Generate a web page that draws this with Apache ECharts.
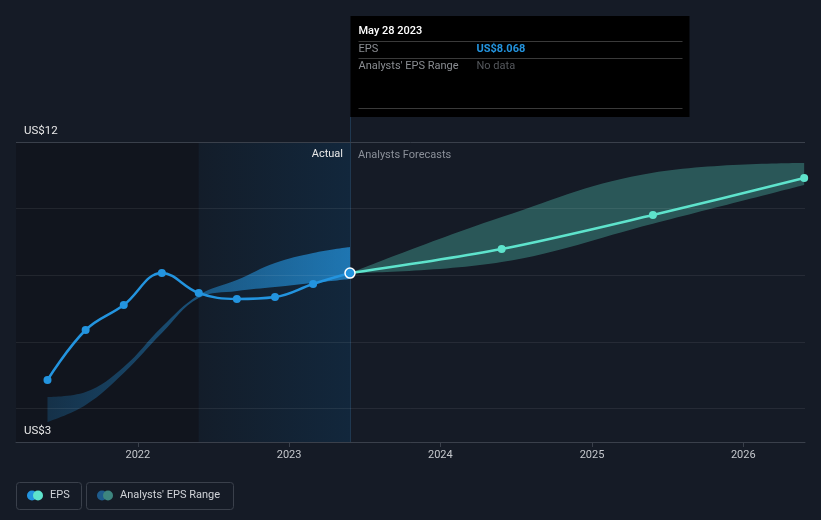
<!DOCTYPE html>
<html><head><meta charset="utf-8">
<script src="https://cdn.jsdelivr.net/npm/echarts@6/dist/echarts.min.js"></script>
<style>html,body{margin:0;padding:0;background:#151b26}#c{width:821px;height:520px}</style>
</head><body><div id="c"></div><script>
const actualDates = ['2021-05-28','2021-08-28','2021-11-28','2022-02-28','2022-05-28','2022-08-28','2022-11-28','2023-02-28','2023-05-28'];
const actualEps = [4.86,6.36,7.11,8.07,7.47,7.29,7.35,7.74,8.068];
const pastRangeLow = [3.60,4.11,5.07,6.27,7.32,7.53,7.65,7.77,7.89];
const pastRangeHigh = [4.35,4.50,5.25,6.45,7.41,7.86,8.37,8.67,8.85];
const forecastDates = ['2023-05-28','2024-05-28','2025-05-28','2026-05-28'];
const forecastEps = [8.068,8.79,9.81,10.92];
const forecastLow = [8.068,8.40,9.55,10.71];
const forecastHigh = [8.068,9.75,11.08,11.37];
const gridValues = [4,6,8,10];
const yTickLabels = [3,12];
const axisMinDate = '2021-03-13';
const axisMaxDate = '2026-05-30';
const pastSplitDate = '2022-05-28';
const tooltipDate = 'May 28 2023';
const tooltipEps = 'US$8.068';

const FONT = 'Roboto, "Noto Sans", sans-serif';
const ts = d => new Date(d + 'T00:00:00Z').getTime();
const YEAR = 365 * 24 * 3600 * 1000;
const chart = echarts.init(document.getElementById('c'), null, {renderer:'canvas'});

const pair = (dates, vals) => dates.map((d,i)=>[ts(d), vals[i]]);
const diff = (dates, lo, hi) => dates.map((d,i)=>[ts(d), +(hi[i]-lo[i]).toFixed(4)]);

const gridMarkLines = gridValues.map(v => ({yAxis: v}));
const labelMarkLines = yTickLabels.map(v => ({
  yAxis: v,
  lineStyle: {color: '#3a404b', width: 1, type: 'solid'},
  label: {show: true, position: 'insideStartTop', distance: [8, 4.5], formatter: 'US$' + v,
    color: '#e8e8e8', fontSize: 11.5, fontFamily: FONT}
}));

const option = {
  backgroundColor: '#151b26',
  animation: false,
  textStyle: {fontFamily: FONT},
  grid: {left: 16, right: 16, top: 142, bottom: 78, containLabel: false},
  xAxis: {
    type: 'time',
    min: ts(axisMinDate), max: ts(axisMaxDate),
    minInterval: YEAR, maxInterval: YEAR + 86400000, splitNumber: 5,
    axisLine: {show: true, lineStyle: {color: '#3a404b', width: 1}},
    axisTick: {show: true, length: 5, lineStyle: {color: '#3a404b'}},
    axisLabel: {show: true, color: '#c4c7cc', fontSize: 11, margin: 8, showMinLabel: false, showMaxLabel: false,
      formatter: '{yyyy}'},
    splitLine: {show: false}
  },
  yAxis: {
    type: 'value', min: 3, max: 12, interval: 9,
    axisLine: {show: false}, axisTick: {show: false},
    axisLabel: {show: false},
    splitLine: {show: false}
  },
  series: [
    {
      name: 'pastLow', type: 'line', stack: 'past', smooth: 0.4, symbol: 'none', silent: true,
      lineStyle: {opacity: 0}, data: pair(actualDates, pastRangeLow), z: 2,
      markArea: {
        silent: true,
        data: [
          [{xAxis: ts(axisMinDate), itemStyle: {color: '#11151e'}}, {xAxis: ts(pastSplitDate)}],
          [{xAxis: ts(pastSplitDate), itemStyle: {color: {type:'linear', x:0, y:0, x2:1, y2:0,
              colorStops:[{offset:0,color:'#131d2a'},{offset:1,color:'#12273c'}]}},
            label: {show: true, position: 'insideTopRight', distance: 7, formatter: 'Actual', color: '#e8e8e8', fontSize: 11, fontFamily: FONT}},
           {xAxis: ts(actualDates[actualDates.length-1])}],
          [{xAxis: ts(actualDates[actualDates.length-1]), itemStyle: {color: 'rgba(0,0,0,0)'},
            label: {show: true, position: 'insideTopLeft', distance: 8, formatter: 'Analysts Forecasts', color: '#8b9099', fontSize: 11, fontFamily: FONT}},
           {xAxis: ts(axisMaxDate)}]
        ]
      }
    },
    {
      name: 'pastBand', type: 'line', stack: 'past', smooth: 0.4, symbol: 'none', silent: true,
      lineStyle: {opacity: 0}, z: 3,
      areaStyle: {opacity: 1, color: {type:'linear', x:0, y:0, x2:1, y2:0,
        colorStops:[{offset:0,color:'rgba(35,148,223,0.22)'},{offset:1,color:'rgba(35,148,223,0.72)'}]}},
      data: diff(actualDates, pastRangeLow, pastRangeHigh)
    },
    {
      name: 'fcLow', type: 'line', stack: 'fc', smooth: 0.4, symbol: 'none', silent: true,
      lineStyle: {opacity: 0}, data: pair(forecastDates, forecastLow), z: 2
    },
    {
      name: 'fcBand', type: 'line', stack: 'fc', smooth: 0.4, symbol: 'none', silent: true,
      lineStyle: {opacity: 0}, z: 3,
      areaStyle: {opacity: 1, color: 'rgba(94,227,204,0.3)'},
      data: diff(forecastDates, forecastLow, forecastHigh)
    },
    {
      name: 'EPS forecast', type: 'line', smooth: 0.3, z: 5,
      symbol: 'circle', symbolSize: 8,
      lineStyle: {color: '#5ee3cc', width: 2.5},
      itemStyle: {color: '#5ee3cc'},
      markLine: {
        silent: true, symbol: 'none', label: {show: false},
        lineStyle: {color: 'rgba(255,255,255,0.075)', width: 1, type: 'solid'},
        data: gridMarkLines.concat(labelMarkLines)
      },
      data: forecastDates.map((d,i)=> i===0 ? {value:[ts(d), forecastEps[i]], symbol:'none'} : [ts(d), forecastEps[i]])
    },
    {
      name: 'EPS', type: 'line', smooth: 0.4, z: 6,
      symbol: 'circle', symbolSize: 8,
      lineStyle: {color: '#2394df', width: 2.5},
      itemStyle: {color: '#2394df'},
      data: actualDates.map((d,i)=> i===actualDates.length-1
        ? {value:[ts(d), actualEps[i]], symbolSize: 10, itemStyle:{color:'#2394df', borderColor:'#ffffff', borderWidth:1.5}}
        : [ts(d), actualEps[i]])
    }
  ]
};
chart.setOption(option);

const p = chart.convertToPixel({xAxisIndex:0, yAxisIndex:0}, [ts(actualDates[actualDates.length-1]), actualEps[actualEps.length-1]]);
const bottom = chart.convertToPixel({yAxisIndex:0}, 3);
const lx = Math.round(p[0]) + 0.5;
const tipL = lx, tipT = 16, tipW = 339, tipH = 101;
const legendY = 482, legendH = 27;
const F = '11px ' + FONT;
chart.setOption({
  graphic: [
    {type:'line', z: 1, shape:{x1: lx, y1: tipT + tipH, x2: lx, y2: bottom}, style:{stroke:'#1f3850', lineWidth:1}},
    {type:'group', z: 100, children: [
      {type:'rect', shape:{x: tipL, y: tipT, width: tipW, height: tipH}, style:{fill:'#000000'}},
      {type:'text', x: tipL+8, y: tipT+15, style:{text: tooltipDate, fill:'#ffffff', font:'500 ' + F, verticalAlign:'middle'}},
      {type:'line', shape:{x1: tipL+8, y1: tipT+25.5, x2: tipL+tipW-7, y2: tipT+25.5}, style:{stroke:'#3a3a3a', lineWidth:1}},
      {type:'text', x: tipL+8, y: tipT+33.5, style:{text:'EPS', fill:'#8a8d92', font: F, verticalAlign:'middle'}},
      {type:'text', x: tipL+126, y: tipT+33.5, style:{text: tooltipEps, fill:'#2394df', font:'bold ' + F, verticalAlign:'middle'}},
      {type:'line', shape:{x1: tipL+8, y1: tipT+42.5, x2: tipL+tipW-7, y2: tipT+42.5}, style:{stroke:'#3a3a3a', lineWidth:1}},
      {type:'text', x: tipL+8, y: tipT+50.5, style:{text:"Analysts' EPS Range", fill:'#8a8d92', font: F, verticalAlign:'middle'}},
      {type:'text', x: tipL+126, y: tipT+50.5, style:{text:'No data', fill:'#55585d', font: F, verticalAlign:'middle'}},
      {type:'line', shape:{x1: tipL+8, y1: tipT+92.5, x2: tipL+tipW-7, y2: tipT+92.5}, style:{stroke:'#3a3a3a', lineWidth:1}}
    ]},
    {type:'group', z: 100, children: [
      {type:'rect', shape:{x:16.5, y:legendY+0.5, width:65, height:legendH, r:3}, style:{fill:'none', stroke:'#3a404b', lineWidth:1}},
      {type:'circle', shape:{cx:32, cy:legendY+13.5, r:5}, style:{fill:'#2394df'}},
      {type:'circle', shape:{cx:38, cy:legendY+13.5, r:5}, style:{fill:'#5ee3cc'}},
      {type:'text', x:50, y:legendY+13.5, style:{text:'EPS', fill:'#d0d3d8', font: F, verticalAlign:'middle'}},
      {type:'rect', shape:{x:86.5, y:legendY+0.5, width:147, height:legendH, r:3}, style:{fill:'none', stroke:'#3a404b', lineWidth:1}},
      {type:'circle', shape:{cx:102, cy:legendY+13.5, r:5}, style:{fill:'#1e5b8c'}},
      {type:'circle', shape:{cx:108, cy:legendY+13.5, r:5}, style:{fill:'#3d857f'}},
      {type:'text', x:120, y:legendY+13.5, style:{text:"Analysts' EPS Range", fill:'#d0d3d8', font: F, verticalAlign:'middle'}}
    ]}
  ]
});
</script></body></html>
